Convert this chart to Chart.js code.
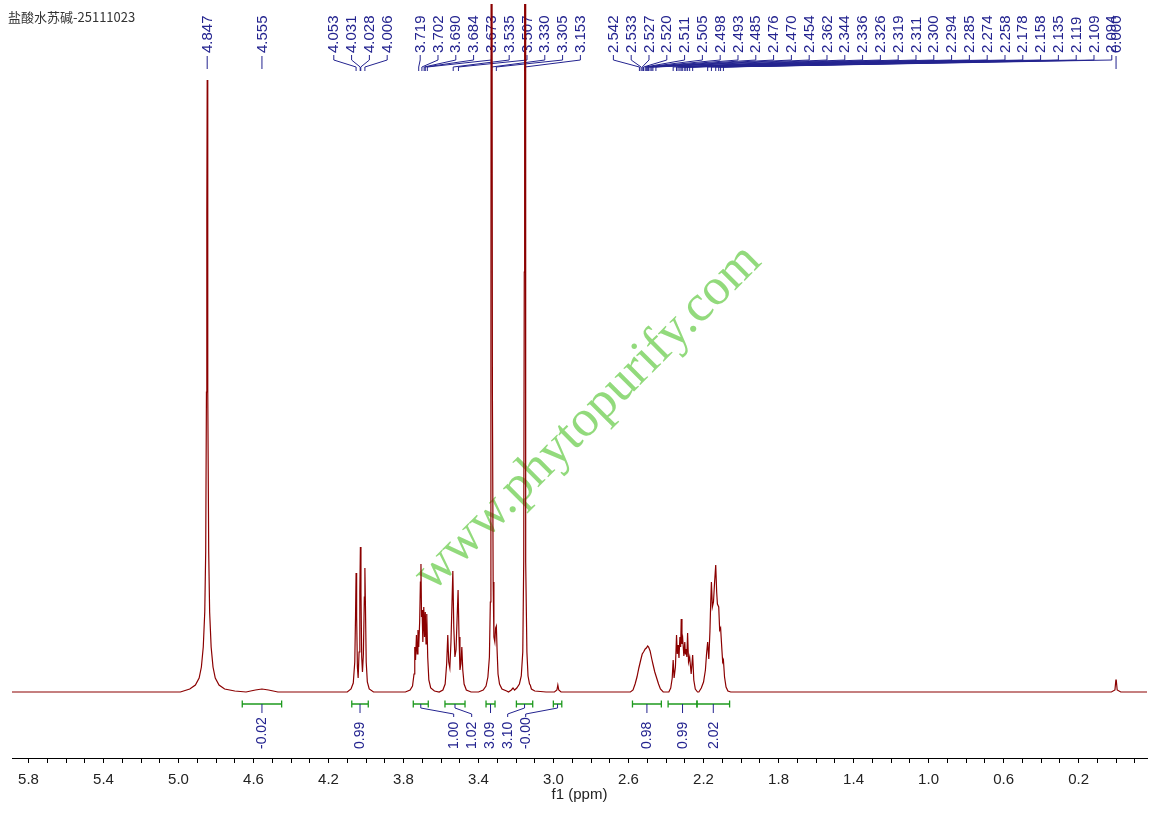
<!DOCTYPE html>
<html>
<head>
<meta charset="utf-8">
<title>盐酸水苏碱-25111023</title>
<script src="https://cdn.jsdelivr.net/npm/chart.js@4.4.1/dist/chart.umd.min.js"></script>
<style>
  html, body { margin: 0; padding: 0; background: #fff; }
  #wrap { width: 1155px; height: 813px; }
</style>
</head>
<body>
<div id="wrap"><canvas id="nmr" width="1155" height="813"></canvas></div>
<script>
const sampleTitle = "盐酸水苏碱-25111023";
const axisTitle = "f1 (ppm)";
const watermark = "www.phytopurify.com";

const xTickLabels = [5.8, 5.4, 5.0, 4.6, 4.2, 3.8, 3.4, 3.0, 2.6, 2.2, 1.8, 1.4, 1.0, 0.6, 0.2];

// spectrum trace, [ppm, intensity]
const sigWater = [[4.990,0],[4.940,3],[4.910,7],[4.890,14],[4.878,25],[4.868,45],[4.860,80],[4.855,140],[4.851,300],[4.849,480],[4.847,612],[4.845,480],[4.843,300],[4.839,140],[4.834,80],[4.826,45],[4.816,25],[4.804,14],[4.784,7],[4.754,3],[4.700,1]];
const sig455 = [[4.640,0],[4.590,2],[4.555,3],[4.520,2],[4.470,0]];
const sig40 = [[4.100,0],[4.080,3],[4.068,9],[4.060,30],[4.056,75],[4.053,119],[4.050,75],[4.046,25],[4.042,14],[4.037,40],[4.033,100],[4.030,145],[4.027,100],[4.023,35],[4.019,20],[4.014,38],[4.009,95],[4.006,124],[4.003,85],[3.999,30],[3.993,10],[3.983,3],[3.960,0]];
const sig37 = [[3.790,0],[3.765,2],[3.752,6],[3.744,18],[3.740,45],[3.736,32],[3.731,57],[3.727,38],[3.723,62],[3.719,45],[3.714,70],[3.710,110],[3.707,128],[3.704,75],[3.701,82],[3.697,50],[3.692,85],[3.688,55],[3.684,80],[3.680,48],[3.676,78],[3.671,35],[3.665,12],[3.655,4],[3.635,1]];
const sig35 = [[3.610,0],[3.590,2],[3.578,8],[3.570,28],[3.564,57],[3.559,30],[3.553,24],[3.547,50],[3.542,85],[3.537,121],[3.532,65],[3.526,35],[3.520,42],[3.514,75],[3.509,102],[3.504,55],[3.499,22],[3.494,28],[3.489,45],[3.484,22],[3.477,8],[3.465,2],[3.440,0]];
const sig333 = [[3.400,0],[3.375,2],[3.360,6],[3.350,15],[3.342,35],[3.337,90],[3.334,300],[3.331,1400],[3.329,1400],[3.326,300],[3.322,110],[3.318,55],[3.313,50],[3.309,64],[3.305,66],[3.301,42],[3.296,18],[3.288,8],[3.275,3],[3.250,1]];
const sig315 = [[3.240,0],[3.225,2],[3.216,4],[3.208,2],[3.196,4],[3.182,8],[3.172,16],[3.164,40],[3.159,130],[3.156,420],[3.154,1400],[3.152,1400],[3.150,420],[3.147,130],[3.142,40],[3.136,16],[3.128,8],[3.124,7],[3.118,3],[3.100,1],[3.040,0]];
const sig297 = [[2.995,0],[2.982,2],[2.977,7],[2.972,2],[2.960,0]];
const sig25 = [[2.590,0],[2.576,2],[2.565,8],[2.555,15],[2.545,24],[2.535,32],[2.527,38],[2.520,40],[2.511,43],[2.505,44],[2.498,46],[2.493,45],[2.485,41],[2.476,33],[2.470,28],[2.460,20],[2.450,14],[2.440,8],[2.430,3],[2.415,0]];
const sig23 = [[2.385,0],[2.375,4],[2.367,14],[2.362,32],[2.357,14],[2.350,25],[2.344,57],[2.340,38],[2.336,47],[2.331,34],[2.326,55],[2.322,45],[2.319,73],[2.315,48],[2.311,53],[2.305,36],[2.300,50],[2.297,38],[2.294,43],[2.289,35],[2.285,59],[2.280,30],[2.274,35],[2.266,18],[2.258,37],[2.252,12],[2.244,3],[2.232,0]];
const sig21 = [[2.225,0],[2.212,4],[2.200,10],[2.190,22],[2.184,38],[2.178,50],[2.172,33],[2.166,60],[2.162,88],[2.158,110],[2.153,85],[2.147,90],[2.141,110],[2.135,127],[2.130,100],[2.126,88],[2.119,85],[2.114,62],[2.109,64],[2.103,45],[2.098,30],[2.094,32],[2.088,15],[2.080,5],[2.070,1],[2.055,0]];
const sigTms = [[0.025,0],[0.006,2],[0.001,12],[-0.001,12],[-0.006,2],[-0.025,0]];

// peak picking labels, grouped as in the plot
const peakGroups = [
  [4.847],
  [4.555],
  [4.053, 4.031, 4.028, 4.006],
  [3.719, 3.702, 3.690, 3.684, 3.673, 3.535, 3.507, 3.330, 3.305, 3.153],
  [2.542, 2.533, 2.527, 2.520, 2.511, 2.505, 2.498, 2.493, 2.485, 2.476, 2.470, 2.454,
   2.362, 2.344, 2.336, 2.326, 2.319, 2.311, 2.300, 2.294, 2.285, 2.274, 2.258,
   2.178, 2.158, 2.135, 2.119, 2.109, 2.094],
  [0.000]
];

// integrals
const integFrom = [4.660, 4.076, 3.748, 3.579, 3.360, 3.198, 3.001, 2.579, 2.389, 2.235];
const integTo = [4.450, 3.988, 3.668, 3.472, 3.312, 3.111, 2.956, 2.425, 2.235, 2.061];
const integValues = [-0.02, 0.99, 1.00, 1.02, 3.09, 3.10, -0.003, 0.98, 0.99, 2.02];
const integCluster = [0, 1, 2, 2, 2, 2, 2, 3, 4, 5];

const trace = [[5.888, 0]].concat(sigWater, sig455, sig40, sig37, sig35, sig333, sig315,
  sig297, sig25, sig23, sig21, sigTms, [[-0.165, 0]]);

const minorTicks = [];
for (let i = 58; i >= -1; i--) minorTicks.push(i / 10);

const blue = '#23238f';
const green = '#1f9a1f';

const annotate = {
  id: 'annotate',
  beforeDatasetsDraw(chart) {
    const ctx = chart.ctx;
    const xs = chart.scales.x;
    const area = chart.chartArea;
    ctx.save();

    ctx.fillStyle = '#333';
    ctx.font = "13px 'Noto Sans CJK SC'";
    ctx.textBaseline = 'middle';
    ctx.fillText(sampleTitle, 8, 17);

    // axis title
    ctx.fillStyle = '#222';
    ctx.font = "15px 'Liberation Sans'";
    ctx.textAlign = 'center';
    ctx.fillText(axisTitle, (area.left + area.right) / 2, 795);

    // watermark
    ctx.save();
    ctx.translate(588, 418);
    ctx.rotate(-45 * Math.PI / 180);
    ctx.font = "52px 'Liberation Serif'";
    ctx.fillStyle = 'rgba(110,205,80,0.75)';
    ctx.textAlign = 'center';
    ctx.textBaseline = 'middle';
    ctx.fillText(watermark, 0, 0);
    ctx.restore();

    // peak labels
    const sp = 17.8, gap = 33;
    let prevEnd = -Infinity;
    ctx.strokeStyle = blue;
    ctx.fillStyle = blue;
    ctx.lineWidth = 1;
    ctx.font = "15px 'Liberation Sans'";
    peakGroups.forEach(g => {
      const px = g.map(v => xs.getPixelForValue(v));
      const n = g.length;
      let start = px.reduce((a, b) => a + b, 0) / n - (n - 1) * sp / 2;
      if (n > 1) {
        start = Math.max(start, prevEnd + gap);
        prevEnd = start + (n - 1) * sp;
      }
      g.forEach((v, i) => {
        const lx = start + i * sp;
        ctx.beginPath();
        if (n === 1) {
          ctx.moveTo(lx, 56); ctx.lineTo(lx, 69);
        } else {
          ctx.moveTo(lx, 55); ctx.lineTo(lx, 60);
          ctx.lineTo(px[i], 67); ctx.lineTo(px[i], 71);
        }
        ctx.stroke();
        ctx.save();
        ctx.translate(lx, 53);
        ctx.rotate(-Math.PI / 2);
        ctx.textAlign = 'left';
        ctx.textBaseline = 'middle';
        ctx.fillText(v.toFixed(3), 0, 0.5);
        ctx.restore();
      });
    });

    // integrals
    const clusters = {};
    integCluster.forEach((c, i) => (clusters[c] = clusters[c] || []).push(i));
    ctx.font = "14px 'Liberation Sans'";
    Object.values(clusters).forEach(ids => {
      const cx = ids.map(i => (xs.getPixelForValue(integFrom[i]) + xs.getPixelForValue(integTo[i])) / 2);
      const mean = cx.reduce((a, b) => a + b, 0) / cx.length;
      ids.forEach((i, k) => {
        const x1 = xs.getPixelForValue(integFrom[i]);
        const x2 = xs.getPixelForValue(integTo[i]);
        const lx = mean + (k - (ids.length - 1) / 2) * 18;
        ctx.strokeStyle = green;
        ctx.lineWidth = 1.3;
        ctx.beginPath();
        ctx.moveTo(x1, 704); ctx.lineTo(x2, 704);
        ctx.moveTo(x1, 700.5); ctx.lineTo(x1, 707.5);
        ctx.moveTo(x2, 700.5); ctx.lineTo(x2, 707.5);
        ctx.stroke();
        ctx.strokeStyle = blue;
        ctx.lineWidth = 1;
        ctx.beginPath();
        if (Math.abs(lx - cx[k]) < 1) {
          ctx.moveTo(cx[k], 704); ctx.lineTo(cx[k], 713);
        } else {
          ctx.moveTo(cx[k], 704); ctx.lineTo(cx[k], 708);
          ctx.lineTo(lx, 714); ctx.lineTo(lx, 717);
        }
        ctx.stroke();
        ctx.save();
        ctx.translate(lx, 749);
        ctx.rotate(-Math.PI / 2);
        ctx.fillStyle = blue;
        ctx.textAlign = 'left';
        ctx.textBaseline = 'middle';
        ctx.fillText(integValues[i].toFixed(2), 0, 0.5);
        ctx.restore();
      });
    });

    ctx.restore();
  }
};

new Chart(document.getElementById('nmr'), {
  type: 'line',
  data: {
    datasets: [{
      data: trace.map(p => ({ x: p[0], y: p[1] })),
      borderColor: '#8b0000',
      borderWidth: 1.2,
      pointRadius: 0,
      tension: 0,
      fill: false
    }]
  },
  options: {
    responsive: false,
    animation: false,
    layout: { padding: { left: 12, right: 8, top: 4, bottom: 16 } },
    plugins: {
      legend: { display: false },
      tooltip: { enabled: false }
    },
    scales: {
      x: {
        type: 'linear',
        reverse: true,
        min: -0.165,
        max: 5.888,
        afterBuildTicks: axis => { axis.ticks = minorTicks.map(v => ({ value: v })); },
        grid: { drawOnChartArea: false, tickLength: 5, color: '#000' },
        border: { color: '#000', width: 1 },
        ticks: {
          autoSkip: false,
          maxRotation: 0,
          padding: 8,
          color: '#222',
          font: { family: 'Liberation Sans', size: 15 },
          callback: v => xTickLabels.some(t => Math.abs(t - v) < 1e-6) ? v.toFixed(1) : ''
        }
      },
      y: { display: false, min: -66, max: 688 }
    }
  },
  plugins: [annotate]
});
</script>
</body>
</html>
